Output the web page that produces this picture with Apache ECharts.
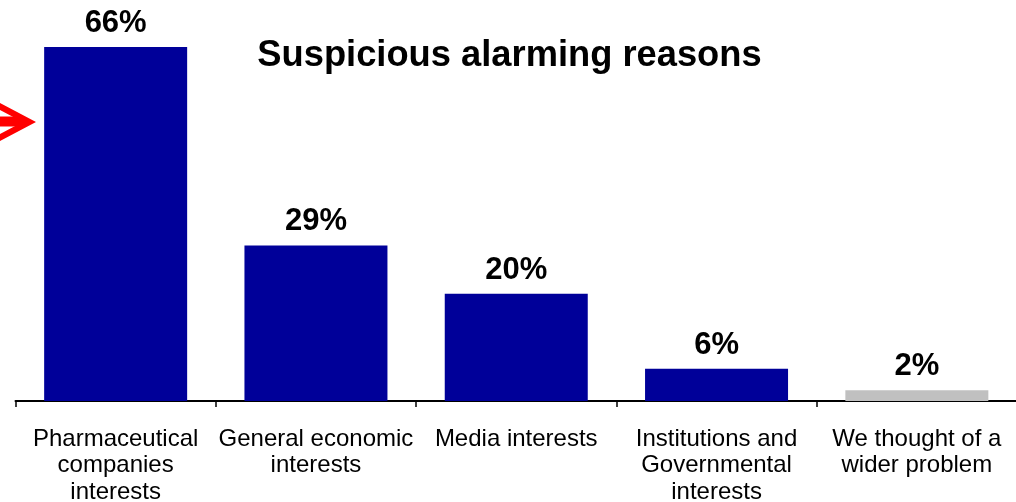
<!DOCTYPE html>
<html>
<head>
<meta charset="utf-8">
<script src="https://cdn.jsdelivr.net/npm/echarts@6/dist/echarts.min.js"></script>
<style>
html,body{margin:0;padding:0;background:#fff;}
#chart{width:1016px;height:502px;}
</style>
</head>
<body>
<div id="chart"></div>
<script>
const categories = [
  "Pharmaceutical\ncompanies\ninterests",
  "General economic\ninterests",
  "Media interests",
  "Institutions and\nGovernmental\ninterests",
  "We thought of a\nwider problem"
];
const values = [66, 29, 20, 6, 2];
const titleText = "Suspicious alarming reasons";

const navy = "#000099";
const grey = "#C0C0C0";
const FONT = "'Liberation Sans', Arial, Helvetica, sans-serif";

const chart = echarts.init(document.getElementById('chart'), null, {renderer: 'canvas'});
chart.setOption({
  animation: false,
  backgroundColor: '#ffffff',
  title: {
    text: titleText,
    left: 504.5,
    top: 33,
    textAlign: 'center',
    textStyle: {fontFamily: FONT, fontSize: 36.3, fontWeight: 'bold', color: '#000'}
  },
  grid: {left: 15.5, width: 1001.5, top: 25.5, bottom: 101, containLabel: false, outerBoundsMode: 'none'},
  xAxis: {
    type: 'category',
    data: categories,
    axisLine: {show: true, lineStyle: {color: '#000', width: 2}},
    axisTick: {show: true, length: 6, lineStyle: {color: '#000', width: 1.5}},
    axisLabel: {
      interval: 0, margin: 25, color: '#000',
      fontFamily: FONT, fontSize: 24, lineHeight: 26.5
    }
  },
  yAxis: {type: 'value', min: 0, max: 70, show: false, splitLine: {show: false}},
  series: [{
    type: 'bar',
    data: values,
    barWidth: 143,
    itemStyle: {color: p => p.dataIndex === values.length - 1 ? grey : navy},
    label: {
      show: true, position: 'top', distance: 8,
      formatter: p => p.value + '%',
      fontFamily: FONT, fontSize: 31, fontWeight: 'bold', color: '#000'
    }
  }],
  graphic: [
    {type: 'polygon', shape: {points: [[0,103],[36,122],[0,141],[0,134],[22.7,122],[0,110]]}, style: {fill: '#FF0000'}},
    {type: 'rect', shape: {x: 0, y: 116.5, width: 24, height: 10}, style: {fill: '#FF0000'}}
  ]
});
</script>
</body>
</html>
